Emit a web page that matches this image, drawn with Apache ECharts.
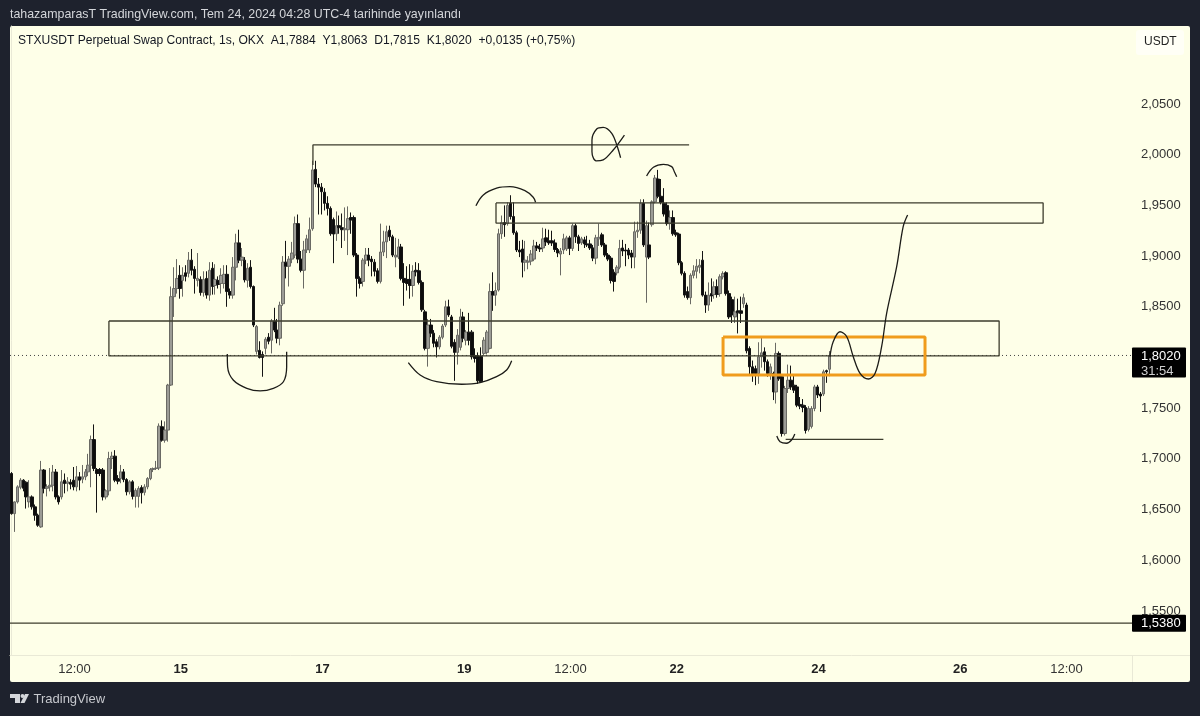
<!DOCTYPE html>
<html>
<head>
<meta charset="utf-8">
<title>STXUSDT</title>
<script src="https://cdn.jsdelivr.net/npm/echarts@6/dist/echarts.min.js"></script>
<style>
html, body { margin: 0; padding: 0; background: #1e222d; }
#panel { position: absolute; left: 10px; top: 26px; width: 1180px; height: 656px; background: #feffe8; border-radius: 2px; }
#main { position: absolute; left: 0; top: 0; width: 1200px; height: 716px; }
</style>
</head>
<body>
<div id="panel"></div>
<div id="main"></div>
<script>
// hourly candles
const opens = [
1.6856,1.6460,1.6576,1.6720,1.6790,1.6770,1.6576,1.6625,1.6527,1.6444,
1.6329,1.6890,1.6710,1.6725,1.6740,1.6870,1.6625,1.6625,1.6790,1.6757,
1.6770,1.6790,1.6724,1.6823,1.6800,1.6823,1.6872,1.6938,1.7190,1.6895,
1.6895,1.6890,1.6625,1.6685,1.7004,1.7027,1.6806,1.6806,1.6872,1.6796,
1.6675,1.6774,1.6630,1.6630,1.6717,1.6670,1.6724,1.6806,1.6895,1.6905,
1.6910,1.7317,1.7185,1.7284,1.7728,1.8600,1.8680,1.8810,1.8760,1.8835,
1.8830,1.8960,1.8870,1.8760,1.8770,1.8640,1.8780,1.8615,1.8880,1.8710,
1.8760,1.8730,1.8730,1.8820,1.8650,1.8615,1.8890,1.9130,1.8960,1.8960,
1.8760,1.8890,1.8700,1.8060,1.8070,1.8030,1.8090,1.8200,1.8170,1.8360,
1.8270,1.8190,1.8530,1.8940,1.8900,1.8970,1.9010,1.9320,1.8970,1.8860,
1.9060,1.9060,1.9270,1.9855,1.9710,1.9680,1.9630,1.9520,1.9470,1.9360,
1.9220,1.9300,1.9280,1.9260,1.9260,1.9380,1.9380,1.9010,1.8780,1.8750,
1.8960,1.9010,1.8970,1.8940,1.8855,1.8750,1.9040,1.9140,1.9255,1.9190,
1.8990,1.8990,1.9090,1.8780,1.8770,1.8770,1.8710,1.8860,1.8855,1.8740,
1.8450,1.8090,1.8320,1.8240,1.8155,1.8105,1.8200,1.8320,1.8500,1.8400,
1.8150,1.8050,1.8100,1.8400,1.8170,1.8250,1.8250,1.8020,1.8010,1.8010,
1.8040,1.8050,1.8090,1.8650,1.8615,1.8665,1.9220,1.9330,1.9320,1.9520,
1.9390,1.9230,1.9060,1.9070,1.8940,1.8940,1.8950,1.8970,1.9100,1.9080,
1.9080,1.9180,1.9150,1.9150,1.9130,1.9065,1.9020,1.9060,1.9070,1.9180,
1.9075,1.9300,1.9190,1.9130,1.9160,1.9120,1.9120,1.9080,1.8980,1.9170,
1.9210,1.9110,1.9010,1.8980,1.8840,1.8835,1.8890,1.9080,1.9060,1.9060,
1.9030,1.8990,1.9240,1.9255,1.9520,1.8990,1.9110,1.9310,1.9535,1.9760,
1.9590,1.9520,1.9500,1.9320,1.9380,1.9230,1.9217,1.8935,1.8830,1.8650,
1.8590,1.8810,1.8850,1.8890,1.8960,1.8615,1.8517,1.8630,1.8620,1.8698,
1.8630,1.8796,1.8836,1.8630,1.8570,1.8400,1.8460,1.8460,1.8530,1.8517,
1.8089,1.7908,1.7890,1.7840,1.8007,1.8056,1.7958,1.7840,1.7842,1.7660,
1.8040,1.7810,1.7250,1.7694,1.7776,1.7727,1.7710,1.7537,1.7530,1.7507,
1.7290,1.7320,1.7497,1.7710,1.7640,1.7640,1.7870,1.7884];
const closes = [
1.6460,1.6576,1.6724,1.6790,1.6710,1.6625,1.6625,1.6527,1.6444,1.6346,
1.6890,1.6710,1.6725,1.6740,1.6870,1.6625,1.6576,1.6774,1.6757,1.6774,
1.6750,1.6724,1.6823,1.6790,1.6823,1.6872,1.6938,1.7191,1.6905,1.6856,
1.6856,1.6625,1.6685,1.7004,1.7027,1.6790,1.6780,1.6872,1.6796,1.6675,
1.6774,1.6630,1.6690,1.6708,1.6665,1.6724,1.6806,1.6895,1.6905,1.6910,
1.7323,1.7185,1.7284,1.7728,1.8600,1.8680,1.8780,1.8680,1.8810,1.8800,
1.8960,1.8860,1.8780,1.8780,1.8640,1.8770,1.8615,1.8860,1.8700,1.8770,
1.8720,1.8810,1.8820,1.8650,1.8615,1.8890,1.9130,1.8960,1.8990,1.8765,
1.8880,1.8700,1.8320,1.8305,1.8000,1.8000,1.8180,1.8160,1.8360,1.8270,
1.8190,1.8516,1.8940,1.8900,1.8970,1.9030,1.9320,1.8970,1.8860,1.9060,
1.9170,1.9260,1.9850,1.9710,1.9680,1.9635,1.9520,1.9470,1.9220,1.9217,
1.9300,1.9280,1.9260,1.9270,1.9370,1.9355,1.9010,1.8780,1.8730,1.8960,
1.9010,1.8960,1.8945,1.8850,1.8750,1.9040,1.9140,1.9240,1.9190,1.9010,
1.9010,1.9090,1.8780,1.8740,1.8730,1.8710,1.8850,1.8845,1.8740,1.8470,
1.8090,1.8320,1.8240,1.8140,1.8105,1.8200,1.8310,1.8500,1.8420,1.8110,
1.8050,1.8220,1.8400,1.8190,1.8250,1.8170,1.8007,1.7990,1.7770,1.7760,
1.8170,1.8250,1.8650,1.8615,1.8660,1.9220,1.9330,1.9310,1.9500,1.9390,
1.9230,1.9060,1.9040,1.8940,1.8960,1.8950,1.9020,1.9100,1.9080,1.9070,
1.9170,1.9140,1.9130,1.9130,1.9065,1.9030,1.9050,1.9170,1.9180,1.9075,
1.9300,1.9190,1.9125,1.9170,1.9120,1.9110,1.9080,1.8980,1.9180,1.9185,
1.9110,1.9010,1.8970,1.8760,1.8750,1.8890,1.9075,1.9050,1.9050,1.9010,
1.8990,1.9240,1.9255,1.9520,1.9110,1.9300,1.8990,1.9535,1.9770,1.9590,
1.9530,1.9415,1.9320,1.9380,1.9220,1.9210,1.8935,1.8830,1.8615,1.8590,
1.8810,1.8855,1.8900,1.8910,1.8615,1.8517,1.8615,1.8606,1.8698,1.8622,
1.8796,1.8829,1.8630,1.8400,1.8420,1.8450,1.8440,1.8435,1.8590,1.8066,
1.7908,1.7840,1.7840,1.8007,1.8046,1.7958,1.7842,1.7908,1.7660,1.8040,
1.7790,1.7250,1.7694,1.7776,1.7710,1.7678,1.7530,1.7520,1.7507,1.7280,
1.7497,1.7497,1.7710,1.7630,1.7620,1.7859,1.7859,1.8020];
const lows = [
1.6450,1.6280,1.6560,1.6700,1.6680,1.6510,1.6520,1.6500,1.6390,1.6330,
1.6320,1.6660,1.6630,1.6680,1.6680,1.6600,1.6550,1.6600,1.6660,1.6680,
1.6700,1.6690,1.6680,1.6690,1.6760,1.6790,1.6830,1.6720,1.6880,1.6470,
1.6830,1.6590,1.6600,1.6640,1.6900,1.6770,1.6750,1.6760,1.6770,1.6640,
1.6650,1.6600,1.6520,1.6520,1.6560,1.6640,1.6700,1.6790,1.6870,1.6890,
1.6890,1.7170,1.7160,1.7170,1.7720,1.8400,1.8630,1.8580,1.8600,1.8750,
1.8790,1.8810,1.8630,1.8700,1.8610,1.8600,1.8580,1.8560,1.8620,1.8620,
1.8680,1.8630,1.8680,1.8500,1.8580,1.8580,1.8760,1.8930,1.8900,1.8740,
1.8690,1.8680,1.8300,1.8030,1.7990,1.7810,1.8030,1.8130,1.8040,1.8250,
1.8140,1.8120,1.8510,1.8780,1.8700,1.8930,1.8980,1.8930,1.8840,1.8680,
1.9030,1.9030,1.9250,1.9680,1.9410,1.9410,1.9450,1.9400,1.9200,1.8930,
1.9150,1.9220,1.9080,1.9150,1.9010,1.9220,1.8990,1.8600,1.8680,1.8700,
1.8920,1.8900,1.8800,1.8800,1.8730,1.8730,1.9000,1.8980,1.9150,1.8990,
1.8890,1.8970,1.8760,1.8510,1.8660,1.8580,1.8600,1.8800,1.8720,1.8450,
1.8070,1.7910,1.8200,1.8100,1.8000,1.8080,1.8180,1.8300,1.8400,1.8090,
1.7770,1.7930,1.8070,1.8150,1.8120,1.8120,1.7980,1.7950,1.7740,1.7750,
1.8020,1.8030,1.8080,1.8460,1.8510,1.8650,1.9170,1.9190,1.9300,1.9360,
1.9210,1.9040,1.8990,1.8790,1.8850,1.8870,1.8910,1.8950,1.9050,1.9040,
1.9040,1.9100,1.9110,1.9100,1.9040,1.8990,1.8810,1.9020,1.9050,1.9010,
1.9050,1.9130,1.9050,1.9110,1.9080,1.9090,1.9060,1.8950,1.8920,1.9100,
1.9090,1.8990,1.8950,1.8730,1.8650,1.8810,1.8870,1.9000,1.8900,1.8970,
1.8880,1.8880,1.9180,1.9220,1.9090,1.8540,1.8970,1.9290,1.9520,1.9570,
1.9510,1.9390,1.9300,1.9260,1.9200,1.9190,1.8910,1.8810,1.8590,1.8570,
1.8525,1.8780,1.8780,1.8830,1.8600,1.8440,1.8460,1.8550,1.8580,1.8590,
1.8600,1.8770,1.8610,1.8380,1.8340,1.8340,1.8237,1.8340,1.8490,1.8040,
1.7820,1.7760,1.7727,1.7740,1.7900,1.7870,1.7810,1.7780,1.7580,1.7546,
1.7770,1.7220,1.7230,1.7650,1.7680,1.7650,1.7510,1.7490,1.7460,1.7250,
1.7270,1.7300,1.7470,1.7600,1.7464,1.7620,1.7750,1.7815];
const highs = [
1.6870,1.6580,1.6740,1.6810,1.6800,1.6780,1.6790,1.6640,1.6550,1.6460,
1.6980,1.6900,1.6750,1.6910,1.6940,1.6900,1.6640,1.6890,1.6856,1.6820,
1.6800,1.6920,1.6930,1.6870,1.6940,1.6900,1.7050,1.7230,1.7340,1.6910,
1.6910,1.6910,1.6700,1.7070,1.7070,1.7086,1.6840,1.6940,1.6900,1.6810,
1.6790,1.6790,1.6710,1.6730,1.6740,1.6750,1.6820,1.6910,1.6915,1.6980,
1.7350,1.7380,1.7370,1.7740,1.8700,1.8890,1.8970,1.8910,1.8890,1.8910,
1.9040,1.9070,1.8900,1.9030,1.8800,1.8850,1.8850,1.8940,1.8940,1.8920,
1.8800,1.8880,1.8910,1.8910,1.8680,1.8990,1.9220,1.9260,1.9080,1.8990,
1.8930,1.8960,1.8710,1.8320,1.8160,1.8060,1.8200,1.8240,1.8380,1.8490,
1.8380,1.8550,1.9000,1.9150,1.9000,1.9140,1.9390,1.9410,1.9050,1.9150,
1.9210,1.9380,1.9940,1.9940,1.9770,1.9720,1.9670,1.9590,1.9490,1.9380,
1.9440,1.9400,1.9420,1.9480,1.9490,1.9430,1.9400,1.9030,1.8800,1.8980,
1.9080,1.9080,1.9000,1.8970,1.8880,1.9320,1.9250,1.9300,1.9300,1.9210,
1.9180,1.9170,1.9120,1.8930,1.8900,1.8920,1.8910,1.8940,1.8930,1.8760,
1.8470,1.8380,1.8380,1.8270,1.8180,1.8220,1.8330,1.8560,1.8570,1.8420,
1.8180,1.8280,1.8480,1.8450,1.8270,1.8440,1.8270,1.8090,1.8050,1.8100,
1.8200,1.8270,1.8730,1.8840,1.8740,1.9270,1.9400,1.9500,1.9530,1.9600,
1.9530,1.9250,1.9150,1.9160,1.9150,1.9000,1.9060,1.9160,1.9140,1.9120,
1.9280,1.9270,1.9260,1.9250,1.9165,1.9080,1.9080,1.9220,1.9200,1.9200,
1.9320,1.9320,1.9210,1.9190,1.9190,1.9200,1.9160,1.9110,1.9210,1.9320,
1.9230,1.9130,1.9030,1.9000,1.8870,1.8910,1.9160,1.9160,1.9120,1.9080,
1.9060,1.9340,1.9340,1.9560,1.9560,1.9350,1.9330,1.9550,1.9800,1.9850,
1.9760,1.9670,1.9530,1.9450,1.9450,1.9260,1.9230,1.8950,1.8850,1.8700,
1.8830,1.8910,1.8970,1.8970,1.9050,1.8650,1.8740,1.8780,1.8750,1.8770,
1.8820,1.8850,1.8850,1.8660,1.8600,1.8600,1.8580,1.8600,1.8630,1.8540,
1.8110,1.7970,1.7920,1.8150,1.8195,1.8100,1.7980,1.7940,1.7860,1.8145,
1.8060,1.7830,1.7720,1.7930,1.7920,1.7820,1.7730,1.7610,1.7590,1.7530,
1.7520,1.7520,1.7730,1.7730,1.7660,1.7880,1.7880,1.8063];

const priceTicks = [1.55, 1.60, 1.65, 1.70, 1.75, 1.80, 1.85, 1.90, 1.95, 2.00, 2.05];
const timeTickBars = [21, 57, 105, 153, 189, 225, 273, 321, 357];
const timeTickLabels = ['12:00', '15', '17', '19', '12:00', '22', '24', '26', '12:00'];

const lastPrice = 1.8020;
const supportPrice = 1.5380;

// drawings on the chart, [bar, price]
const zoneBig = [[33, 1.8360], [334.5, 1.8360], [334.5, 1.8015], [33, 1.8015], [33, 1.8360]];
const zoneTop = [[164.1, 1.9524], [349.4, 1.9524], [349.4, 1.9326], [164.1, 1.9326], [164.1, 1.9524]];
const zoneOrange = [[241, 1.8202], [309.4, 1.8202], [309.4, 1.7827], [241, 1.7827], [241, 1.8202]];
const highLine = [[102.1, 1.9898], [102.1, 2.0096], [229.5, 2.0096]];
const lowLine = [[262.2, 1.7193], [295.3, 1.7193]];
const cupLeft = [[73.1, 1.8035], [73.2, 1.7909], [75.1, 1.7778], [79.7, 1.7696], [84.2, 1.7670], [88.7, 1.7696], [92.1, 1.7761], [93.2, 1.7909], [93.2, 1.8057]];
const cupMid = [[134.4, 1.7949], [138.4, 1.7827], [144, 1.7761], [152.5, 1.7736], [158.7, 1.7752], [164.3, 1.7811], [167.7, 1.7877], [169.4, 1.7968]];
const capMid = [[157.3, 1.9497], [159.8, 1.9603], [164.3, 1.9669], [168.8, 1.9684], [173.9, 1.9645], [176.7, 1.9580], [177.5, 1.9531]];
const capRight = [[215.1, 1.9790], [217.4, 1.9876], [220.8, 1.9905], [223.6, 1.9882], [224.5, 1.9832], [225.3, 1.9783]];
const cupLow = [[259.2, 1.7226], [260.3, 1.7170], [262.5, 1.7154], [264.2, 1.7186], [265.3, 1.7246]];
const crossMark = [[206.3, 1.9970], [205.2, 2.0079], [203.3, 2.0211], [200.4, 2.0270], [198.2, 2.0253], [196.6, 2.0145], [196.6, 2.0030], [198, 1.9938], [200.4, 1.9948], [203.8, 2.0046], [207.6, 2.0194]];
const forecast = [[277.2, 1.8008], [278.3, 1.8156], [280.6, 1.8254], [282.9, 1.8205], [285.1, 1.8008], [287.4, 1.7844], [290.2, 1.7788], [292.5, 1.7844], [294.7, 1.8107], [296.4, 1.8436], [299.8, 1.8896], [302, 1.9290], [303.5, 1.9405]];

const barCount = 380;
const fontName = '"Liberation Sans", Arial, sans-serif';
const lineColor = '#3c3c2c';
const penColor = '#1c1c18';
const edgeColor = '#e9e9d6';

const candles = opens.map((o, i) => [o, closes[i], lows[i], highs[i]]);
const categories = [];
for (let i = 0; i < barCount; i++) categories.push(String(i));

function drawing(points, color, width, smooth, dash) {
    return {
        type: 'line',
        xAxisIndex: 1,
        data: points,
        symbol: 'none',
        smooth: smooth ? 0.35 : false,
        silent: true,
        z: 5,
        lineStyle: { color: color, width: width, type: dash || 'solid' }
    };
}

const chart = echarts.init(document.getElementById('main'), null, { renderer: 'canvas' });

chart.setOption({
    animation: false,
    backgroundColor: 'transparent',
    title: [
        {
            text: 'tahazamparasT TradingView.com, Tem 24, 2024 04:28 UTC-4 tarihinde yayınlandı',
            left: 10, top: 9, padding: 0,
            textStyle: { color: '#d4d6da', fontSize: 12.4, fontWeight: 'normal', fontFamily: fontName }
        },
        {
            text: 'STXUSDT Perpetual Swap Contract, 1s, OKX  A1,7884  Y1,8063  D1,7815  K1,8020  +0,0135 (+0,75%)',
            left: 18, top: 35, padding: 0,
            textStyle: { color: '#131722', fontSize: 12.1, fontWeight: 'normal', fontFamily: fontName }
        }
    ],
    grid: { left: 10, top: 26, width: 1122, height: 629, containLabel: false },
    xAxis: [
        {
            type: 'category',
            data: categories,
            boundaryGap: true,
            axisLine: { show: true, lineStyle: { color: edgeColor } },
            axisTick: { show: false },
            splitLine: { show: false },
            axisLabel: {
                margin: 8,
                padding: [0, 0, 0, 2],
                interval: (i) => timeTickBars.indexOf(i) >= 0,
                formatter: (v) => {
                    const t = timeTickLabels[timeTickBars.indexOf(Number(v))];
                    return t.indexOf(':') > 0 ? t : '{day|' + t + '}';
                },
                color: '#333',
                fontSize: 13,
                fontFamily: fontName,
                rich: { day: { fontWeight: 'bold', fontSize: 13, color: '#222', fontFamily: fontName } }
            }
        },
        { type: 'value', min: -0.5, max: barCount - 0.5, show: false }
    ],
    yAxis: {
        type: 'value',
        position: 'right',
        min: 1.5066,
        max: 2.1269,
        scale: true,
        axisLine: { show: true, lineStyle: { color: edgeColor } },
        axisTick: { show: false },
        splitLine: { show: false },
        axisLabel: {
            customValues: priceTicks,
            margin: 9,
            padding: [2, 0, 0, 0],
            color: '#333',
            fontSize: 13,
            fontFamily: fontName,
            formatter: (v) => v.toFixed(4).replace('.', ',')
        }
    },
    series: [
        drawing([[-0.5, lastPrice], [barCount - 0.5, lastPrice]], '#444', 1, false, [1, 3]),
        {
            type: 'candlestick',
            data: candles,
            barWidth: 3,
            silent: true,
            z: 3,
            itemStyle: { color: '#9c9c96', color0: '#0c0c0c', borderColor: '#6a6a64', borderColor0: '#141414', borderWidth: 1 }
        },
        drawing(zoneBig, lineColor, 1.3, false),
        drawing(zoneTop, lineColor, 1.3, false),
        drawing(zoneOrange, '#f09c1c', 3, false),
        drawing(highLine, lineColor, 1.3, false),
        drawing(lowLine, lineColor, 1.3, false),
        drawing([[-0.5, supportPrice], [barCount - 0.5, supportPrice]], lineColor, 1.3, false),
        drawing(cupLeft, penColor, 1.3, true),
        drawing(cupMid, penColor, 1.3, true),
        drawing(capMid, penColor, 1.3, true),
        drawing(capRight, penColor, 1.3, true),
        drawing(cupLow, penColor, 1.3, true),
        drawing(crossMark, penColor, 1.3, true),
        drawing(forecast, penColor, 1.3, true)
    ]
});

// price boxes follow the axis scale
const lastY = chart.convertToPixel({ yAxisIndex: 0 }, lastPrice);
const supportY = chart.convertToPixel({ yAxisIndex: 0 }, supportPrice);

function axisText(text, x, y, color, size) {
    return { type: 'text', x: x, y: y, z: 20, style: { text: text, fill: color, font: size + 'px ' + fontName, textAlign: 'left', textVerticalAlign: 'middle' } };
}

chart.setOption({
    graphic: [
        { type: 'line', z: 1, shape: { x1: 1132.5, y1: 655, x2: 1132.5, y2: 682 }, style: { stroke: edgeColor, lineWidth: 1 } },
        { type: 'line', z: 1, shape: { x1: 1132, y1: 655.5, x2: 1190, y2: 655.5 }, style: { stroke: edgeColor, lineWidth: 1 } },
        { type: 'rect', z: 19, shape: { x: 1132, y: lastY - 8, width: 54, height: 30, r: 1 }, style: { fill: '#000' } },
        axisText('1,8020', 1141, lastY + 0.5, '#fff', 13),
        axisText('31:54', 1141, lastY + 15.5, '#cfcfcf', 13),
        { type: 'rect', z: 19, shape: { x: 1132, y: supportY - 8.5, width: 54, height: 17, r: 1 }, style: { fill: '#000' } },
        axisText('1,5380', 1141, supportY + 0.5, '#fff', 13),
        { type: 'rect', z: 19, shape: { x: 1136, y: 30, width: 48, height: 25, r: 3 }, style: { fill: '#fffff6' } },
        axisText('USDT', 1144, 42, '#222', 12),
        // logo
        { type: 'polygon', z: 19, shape: { points: [[10, 694], [20, 694], [20, 703], [15, 703], [15, 698], [10, 698]] }, style: { fill: '#d4d6da' } },
        { type: 'circle', z: 19, shape: { cx: 22.5, cy: 696, r: 2 }, style: { fill: '#d4d6da' } },
        { type: 'polygon', z: 19, shape: { points: [[25, 694], [29, 694], [24.5, 703], [20.5, 703]] }, style: { fill: '#d4d6da' } },
        axisText('TradingView', 33.5, 699.5, '#c6c8cd', 13)
    ]
});
</script>
</body>
</html>
